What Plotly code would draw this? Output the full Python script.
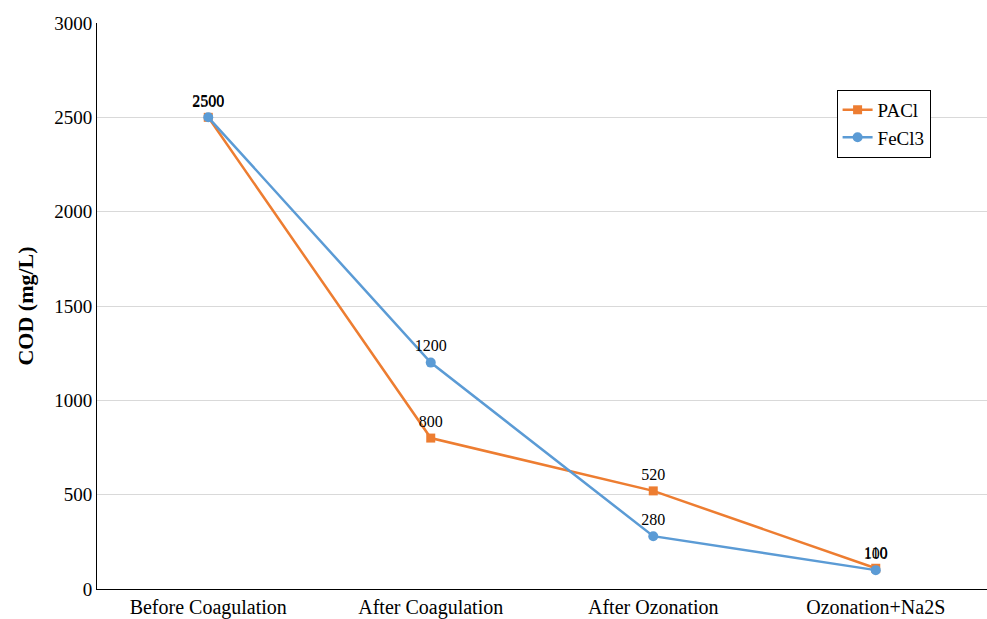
import plotly.graph_objects as go

stages = ["Before Coagulation", "After Coagulation", "After Ozonation", "Ozonation+Na2S"]
pacl = [2500, 800, 520, 110]
fecl3 = [2500, 1200, 280, 100]
y_ticks = [0, 500, 1000, 1500, 2000, 2500, 3000]

font_family = "Liberation Serif, Times New Roman, serif"

fig = go.Figure()
fig.add_trace(go.Scatter(
    x=stages, y=pacl, name="PACl", mode="lines+markers+text",
    line=dict(color="#ED7D31", width=2.5),
    marker=dict(symbol="square", size=9, color="#ED7D31"),
    text=[str(v) for v in pacl], textposition="top center",
    textfont=dict(family=font_family, size=16, color="#000000"),
))
fig.add_trace(go.Scatter(
    x=stages, y=fecl3, name="FeCl3", mode="lines+markers+text",
    line=dict(color="#5B9BD5", width=2.5),
    marker=dict(symbol="circle", size=10, color="#5B9BD5"),
    text=[str(v) for v in fecl3], textposition="top center",
    textfont=dict(family=font_family, size=16, color="#000000"),
))

fig.update_layout(
    width=987, height=619,
    margin=dict(l=97, r=0, t=23, b=30),
    paper_bgcolor="white", plot_bgcolor="white",
    font=dict(family=font_family, size=19, color="#000000"),
    showlegend=True,
    legend=dict(
        x=0.831, y=0.882, xanchor="left", yanchor="top",
        bordercolor="#000000", borderwidth=1, bgcolor="white",
        font=dict(family=font_family, size=19, color="#000000"),
        tracegroupgap=0, itemwidth=30,
    ),
)
fig.update_xaxes(
    type="category", range=[-0.5, 3.5],
    showline=True, linecolor="#000000", linewidth=1,
    showgrid=False, ticks="", tickfont=dict(size=20),
)
fig.update_yaxes(
    range=[0, 3000], tickvals=y_ticks,
    showline=True, linecolor="#000000", linewidth=1,
    showgrid=True, gridcolor="#D9D9D9", gridwidth=1,
    ticks="", tickfont=dict(size=19), zeroline=False,
    title=dict(text="<b>COD (mg/L)</b>", font=dict(size=22), standoff=14),
)

fig.write_html("out.html")
